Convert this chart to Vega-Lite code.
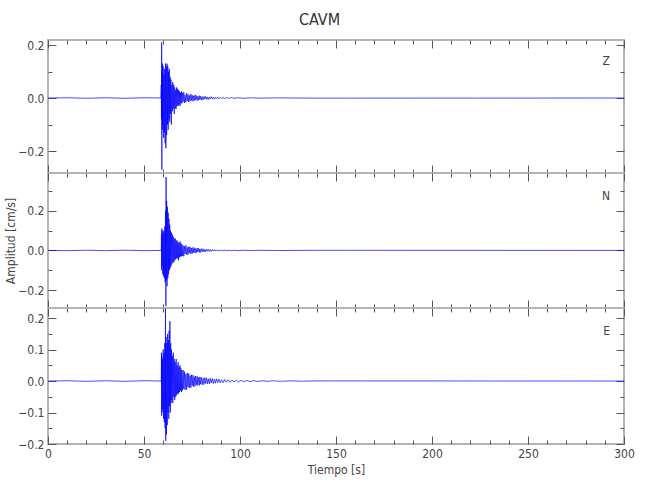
{
  "$schema": "https://vega.github.io/schema/vega-lite/v6.json",
  "padding": {"left": 3, "top": 12, "right": 26, "bottom": 5},
  "title": {"text": "CAVM", "anchor": "middle", "fontSize": 16, "fontWeight": "normal", "color": "#333", "font": "DejaVu Sans Condensed, Lato", "offset": 10},
  "spacing": 0,
  "bounds": "flush",
  "datasets": {
    "z": [
      {"t":0,"v":0},{"t":10,"v":0.001},{"t":20,"v":-0.001},{"t":30,"v":0.001},{"t":40,"v":-0.001},{"t":50,"v":0.001},{"t":58.8,"v":0},
      {"t":59.0,"v":0.05},{"t":59.1,"v":-0.08},{"t":59.2,"v":0.21},{"t":59.3,"v":-0.27},{"t":59.4,"v":0.10},{"t":59.5,"v":-0.12},{"t":59.6,"v":0.13},{"t":59.8,"v":-0.10},
      {"t":60.0,"v":0.12},{"t":60.2,"v":-0.15},{"t":60.4,"v":0.09},{"t":60.6,"v":-0.13},{"t":60.8,"v":0.11},{"t":61.0,"v":-0.17},{"t":61.2,"v":0.13},{"t":61.4,"v":-0.19},
      {"t":61.6,"v":0.12},{"t":61.8,"v":-0.14},{"t":62.0,"v":0.13},{"t":62.2,"v":-0.10},{"t":62.4,"v":0.12},{"t":62.6,"v":-0.12},{"t":62.8,"v":0.10},{"t":63.0,"v":-0.08},
      {"t":63.2,"v":0.11},{"t":63.4,"v":-0.09},{"t":63.6,"v":0.08},{"t":63.8,"v":-0.06},{"t":64.0,"v":0.07},{"t":64.25,"v":-0.10},{"t":64.5,"v":0.05},{"t":64.75,"v":-0.05},
      {"t":65.0,"v":0.06},{"t":65.25,"v":-0.04},{"t":65.5,"v":0.05},{"t":65.75,"v":-0.06},{"t":66.0,"v":0.04},{"t":66.25,"v":-0.04},{"t":66.5,"v":0.03},{"t":66.75,"v":-0.04},
      {"t":67.0,"v":0.04},{"t":67.25,"v":-0.03},{"t":67.5,"v":0.035},{"t":67.75,"v":-0.03},{"t":68.0,"v":0.03},{"t":68.25,"v":-0.025},{"t":68.5,"v":0.025},{"t":68.75,"v":-0.03},
      {"t":69.0,"v":0.02},{"t":69.25,"v":-0.02},{"t":69.5,"v":0.025},{"t":69.75,"v":-0.02},
      {"t":70.0,"v":0.02},{"t":70.4,"v":-0.014},{"t":70.7,"v":0.022},{"t":71.1,"v":-0.019},{"t":71.4,"v":0.012},{"t":71.8,"v":-0.016},{"t":72.2,"v":0.018},{"t":72.5,"v":-0.011},
      {"t":72.9,"v":0.014},{"t":73.3,"v":-0.015},{"t":73.6,"v":0.01},{"t":74.0,"v":-0.012},{"t":74.4,"v":0.015},{"t":74.7,"v":-0.009},{"t":75.1,"v":0.011},{"t":75.5,"v":-0.012},
      {"t":75.8,"v":0.008},{"t":76.2,"v":-0.01},{"t":76.6,"v":0.012},{"t":76.9,"v":-0.007},{"t":77.3,"v":0.009},{"t":77.7,"v":-0.01},{"t":78.0,"v":0.006},{"t":78.4,"v":-0.008},
      {"t":78.8,"v":0.009},{"t":79.1,"v":-0.006},{"t":79.5,"v":0.007},{"t":79.9,"v":-0.008},{"t":80.3,"v":0.005},{"t":80.8,"v":-0.007},{"t":81.2,"v":0.006},{"t":81.7,"v":-0.004},
      {"t":82.1,"v":0.006},{"t":82.6,"v":-0.005},{"t":83.0,"v":0.004},{"t":83.5,"v":-0.006},{"t":84.0,"v":0.004},{"t":84.5,"v":-0.003},{"t":85.0,"v":0.005},{"t":85.6,"v":-0.004},
      {"t":86.1,"v":0.003},{"t":86.7,"v":-0.004},{"t":87.2,"v":0.003},{"t":87.8,"v":-0.002},{"t":88.4,"v":0.003},{"t":89.0,"v":-0.003},{"t":89.7,"v":0.002},{"t":90.4,"v":-0.002},
      {"t":91.2,"v":0.002},{"t":92.0,"v":-0.002},{"t":93.0,"v":0.0015},{"t":94.2,"v":-0.001},{"t":95.5,"v":0.0015},{"t":97,"v":-0.001},{"t":99,"v":0.001},{"t":102,"v":-0.001},
      {"t":106,"v":0.0008},{"t":110,"v":-0.0005},{"t":120,"v":0.0005},{"t":140,"v":-0.0005},{"t":300,"v":0}
    ],
    "n": [
      {"t":0,"v":0},{"t":10,"v":-0.001},{"t":20,"v":0.001},{"t":30,"v":-0.001},{"t":40,"v":0.001},{"t":50,"v":-0.001},{"t":59.0,"v":0},
      {"t":59.1,"v":0.08},{"t":59.2,"v":-0.10},{"t":59.3,"v":0.11},{"t":59.4,"v":-0.08},{"t":59.6,"v":0.10},{"t":59.8,"v":-0.12},{"t":60.0,"v":0.09},{"t":60.2,"v":-0.13},
      {"t":60.4,"v":0.10},{"t":60.6,"v":-0.14},{"t":60.8,"v":0.12},{"t":61.0,"v":-0.16},{"t":61.2,"v":0.20},{"t":61.4,"v":-0.28},{"t":61.5,"v":0.37},{"t":61.6,"v":-0.15},
      {"t":61.8,"v":0.25},{"t":62.0,"v":-0.18},{"t":62.2,"v":0.22},{"t":62.4,"v":-0.14},{"t":62.6,"v":0.19},{"t":62.8,"v":-0.12},{"t":63.0,"v":0.16},{"t":63.2,"v":-0.10},
      {"t":63.4,"v":0.13},{"t":63.6,"v":-0.09},{"t":63.8,"v":0.10},{"t":64.0,"v":-0.08},{"t":64.25,"v":0.09},{"t":64.5,"v":-0.07},{"t":64.75,"v":0.08},{"t":65.0,"v":-0.06},
      {"t":65.25,"v":0.07},{"t":65.5,"v":-0.06},{"t":65.75,"v":0.06},{"t":66.0,"v":-0.05},{"t":66.25,"v":0.06},{"t":66.5,"v":-0.045},{"t":66.75,"v":0.05},{"t":67.0,"v":-0.04},
      {"t":67.25,"v":0.05},{"t":67.5,"v":-0.04},{"t":67.75,"v":0.04},{"t":68.0,"v":-0.05},{"t":68.25,"v":0.04},{"t":68.5,"v":-0.035},{"t":68.75,"v":0.045},{"t":69.0,"v":-0.03},
      {"t":69.25,"v":0.035},{"t":69.5,"v":-0.03},{"t":69.75,"v":0.03},
      {"t":70.0,"v":-0.028},{"t":70.4,"v":0.024},{"t":70.7,"v":-0.03},{"t":71.1,"v":0.021},{"t":71.4,"v":-0.018},{"t":71.8,"v":0.026},{"t":72.2,"v":-0.02},{"t":72.5,"v":0.016},
      {"t":72.9,"v":-0.022},{"t":73.3,"v":0.019},{"t":73.6,"v":-0.014},{"t":74.0,"v":0.018},{"t":74.4,"v":-0.017},{"t":74.7,"v":0.012},{"t":75.1,"v":-0.016},{"t":75.5,"v":0.015},
      {"t":75.8,"v":-0.011},{"t":76.2,"v":0.014},{"t":76.6,"v":-0.013},{"t":76.9,"v":0.009},{"t":77.3,"v":-0.012},{"t":77.7,"v":0.012},{"t":78.0,"v":-0.008},{"t":78.4,"v":0.011},
      {"t":78.8,"v":-0.01},{"t":79.1,"v":0.007},{"t":79.5,"v":-0.01},{"t":79.9,"v":0.009},{"t":80.3,"v":-0.006},{"t":80.8,"v":0.008},{"t":81.2,"v":-0.008},{"t":81.7,"v":0.005},
      {"t":82.1,"v":-0.007},{"t":82.6,"v":0.006},{"t":83.0,"v":-0.004},{"t":83.5,"v":0.006},{"t":84.0,"v":-0.005},{"t":84.5,"v":0.004},{"t":85.0,"v":-0.005},{"t":85.6,"v":0.004},
      {"t":86.1,"v":-0.003},{"t":86.7,"v":0.004},{"t":87.2,"v":-0.003},{"t":87.8,"v":0.003},{"t":88.4,"v":-0.003},{"t":89.0,"v":0.002},{"t":89.7,"v":-0.003},{"t":90.4,"v":0.002},
      {"t":91.2,"v":-0.002},{"t":92.0,"v":0.002},{"t":93.0,"v":-0.0015},{"t":94.2,"v":0.001},{"t":95.5,"v":-0.0015},{"t":97,"v":0.001},{"t":99,"v":-0.001},{"t":102,"v":0.001},
      {"t":106,"v":-0.0008},{"t":110,"v":0.0005},{"t":120,"v":-0.0005},{"t":140,"v":0.0005},{"t":300,"v":0}
    ],
    "e": [
      {"t":0,"v":0},{"t":10,"v":0.001},{"t":20,"v":-0.001},{"t":30,"v":0.001},{"t":40,"v":-0.001},{"t":50,"v":0.001},{"t":59.0,"v":0},
      {"t":59.1,"v":0.09},{"t":59.2,"v":-0.11},{"t":59.3,"v":0.08},{"t":59.4,"v":-0.10},{"t":59.6,"v":0.07},{"t":59.8,"v":-0.09},{"t":60.0,"v":0.10},{"t":60.2,"v":-0.12},
      {"t":60.4,"v":0.09},{"t":60.6,"v":-0.13},{"t":60.8,"v":0.12},{"t":61.0,"v":-0.15},{"t":61.2,"v":0.23},{"t":61.3,"v":-0.19},{"t":61.5,"v":0.14},{"t":61.7,"v":-0.17},
      {"t":61.9,"v":0.12},{"t":62.1,"v":-0.14},{"t":62.3,"v":0.15},{"t":62.5,"v":-0.10},{"t":62.7,"v":0.13},{"t":62.9,"v":-0.12},{"t":63.1,"v":0.16},{"t":63.3,"v":-0.08},
      {"t":63.5,"v":0.19},{"t":63.7,"v":-0.10},{"t":63.9,"v":0.12},{"t":64.1,"v":-0.07},{"t":64.3,"v":0.10},{"t":64.5,"v":-0.06},{"t":64.75,"v":0.08},{"t":65.0,"v":-0.07},
      {"t":65.25,"v":0.09},{"t":65.5,"v":-0.05},{"t":65.75,"v":0.07},{"t":66.0,"v":-0.06},{"t":66.25,"v":0.06},{"t":66.5,"v":-0.05},{"t":66.75,"v":0.07},{"t":67.0,"v":-0.045},
      {"t":67.25,"v":0.05},{"t":67.5,"v":-0.04},{"t":67.75,"v":0.06},{"t":68.0,"v":-0.04},{"t":68.25,"v":0.045},{"t":68.5,"v":-0.035},{"t":68.75,"v":0.05},{"t":69.0,"v":-0.03},
      {"t":69.25,"v":0.04},{"t":69.5,"v":-0.035},{"t":69.75,"v":0.035},
      {"t":70.0,"v":-0.03},{"t":70.4,"v":0.034},{"t":70.7,"v":-0.025},{"t":71.1,"v":0.03},{"t":71.4,"v":-0.028},{"t":71.8,"v":0.022},{"t":72.2,"v":-0.027},{"t":72.5,"v":0.026},
      {"t":72.9,"v":-0.019},{"t":73.3,"v":0.024},{"t":73.6,"v":-0.022},{"t":74.0,"v":0.017},{"t":74.4,"v":-0.021},{"t":74.7,"v":0.02},{"t":75.1,"v":-0.015},{"t":75.5,"v":0.019},
      {"t":75.8,"v":-0.018},{"t":76.2,"v":0.014},{"t":76.6,"v":-0.017},{"t":76.9,"v":0.016},{"t":77.3,"v":-0.012},{"t":77.7,"v":0.015},{"t":78.0,"v":-0.014},{"t":78.4,"v":0.011},
      {"t":78.8,"v":-0.014},{"t":79.1,"v":0.013},{"t":79.5,"v":-0.01},{"t":79.9,"v":0.012},{"t":80.3,"v":-0.012},{"t":80.8,"v":0.009},{"t":81.2,"v":-0.011},{"t":81.7,"v":0.011},
      {"t":82.1,"v":-0.008},{"t":82.6,"v":0.01},{"t":83.0,"v":-0.009},{"t":83.5,"v":0.007},{"t":84.0,"v":-0.009},{"t":84.5,"v":0.009},{"t":85.0,"v":-0.006},{"t":85.6,"v":0.008},
      {"t":86.1,"v":-0.008},{"t":86.7,"v":0.006},{"t":87.2,"v":-0.007},{"t":87.8,"v":0.007},{"t":88.4,"v":-0.005},{"t":89.0,"v":0.006},{"t":89.7,"v":-0.006},{"t":90.4,"v":0.004},
      {"t":91.2,"v":-0.005},{"t":92.0,"v":0.005},{"t":92.9,"v":-0.004},{"t":93.8,"v":0.004},{"t":94.8,"v":-0.004},{"t":95.8,"v":0.003},{"t":96.9,"v":-0.003},{"t":98,"v":0.003},
      {"t":99.2,"v":-0.003},{"t":100.5,"v":0.002},{"t":102,"v":-0.0025},{"t":103.6,"v":0.002},{"t":105.3,"v":-0.002},{"t":107,"v":0.0015},{"t":109,"v":-0.0015},{"t":111.5,"v":0.001},
      {"t":114,"v":-0.001},{"t":117,"v":0.001},{"t":121,"v":-0.0008},{"t":126,"v":0.0006},{"t":132,"v":-0.0005},{"t":140,"v":0.0004},{"t":300,"v":0}
    ]
  },
  "vconcat": [
    {
      "data": {"name": "z"},
      "width": 576, "height": 133,
      "title": {"text": "Z", "anchor": "end", "frame": "group", "orient": "top", "offset": -29, "dx": -14, "fontSize": 12, "fontWeight": "normal", "color": "#444"},
      "layer": [
        {"mark": {"type": "line", "color": "#0000ff", "strokeWidth": 0.7},
         "encoding": {
           "x": {"field": "t", "type": "quantitative", "scale": {"domain": [0, 300], "nice": false},
                 "axis": {"orient": "bottom", "values": [0,10,20,30,40,50,60,70,80,90,100,110,120,130,140,150,160,170,180,190,200,210,220,230,240,250,260,270,280,290,300], "tickSize": {"condition": {"test": "datum.value % 50 === 0", "value": -8}, "value": -4}, "labels": false, "title": null}},
           "y": {"field": "v", "type": "quantitative", "scale": {"domain": [-0.283, 0.219], "nice": false, "zero": false},
                 "axis": {"orient": "left", "values": [-0.2,-0.1,0,0.1,0.2], "format": ".1f", "tickSize": {"condition": {"test": "abs(round(datum.value*10)) % 2 === 0", "value": -8}, "value": -4}, "labelExpr": "abs(round(datum.value*10)) % 2 === 0 ? datum.label : ''", "labelPadding": 12, "title": null}}
         }},
        {"mark": {"type": "line", "opacity": 0},
         "encoding": {
           "x": {"field": "t", "type": "quantitative", "axis": {"orient": "top", "values": [0,10,20,30,40,50,60,70,80,90,100,110,120,130,140,150,160,170,180,190,200,210,220,230,240,250,260,270,280,290,300], "tickSize": {"condition": {"test": "datum.value % 50 === 0", "value": -8}, "value": -4}, "labels": false, "title": null}},
           "y": {"field": "v", "type": "quantitative", "axis": {"orient": "right", "values": [-0.2,-0.1,0,0.1,0.2], "tickSize": {"condition": {"test": "abs(round(datum.value*10)) % 2 === 0", "value": -8}, "value": -4}, "labels": false, "title": null}}
         }}
      ],
      "resolve": {"axis": {"x": "independent", "y": "independent"}}
    },
    {
      "data": {"name": "n"},
      "width": 576, "height": 135,
      "title": {"text": "N", "anchor": "end", "frame": "group", "orient": "top", "offset": -30, "dx": -14, "fontSize": 12, "fontWeight": "normal", "color": "#444"},
      "layer": [
        {"mark": {"type": "line", "color": "#0000ff", "strokeWidth": 0.7},
         "encoding": {
           "x": {"field": "t", "type": "quantitative", "scale": {"domain": [0, 300], "nice": false},
                 "axis": {"orient": "bottom", "values": [0,10,20,30,40,50,60,70,80,90,100,110,120,130,140,150,160,170,180,190,200,210,220,230,240,250,260,270,280,290,300], "tickSize": {"condition": {"test": "datum.value % 50 === 0", "value": -8}, "value": -4}, "labels": false, "title": null}},
           "y": {"field": "v", "type": "quantitative", "scale": {"domain": [-0.29, 0.39], "nice": false, "zero": false},
                 "axis": {"orient": "left", "values": [-0.2,-0.1,0,0.1,0.2,0.3], "format": ".1f", "tickSize": {"condition": {"test": "abs(round(datum.value*10)) % 2 === 0", "value": -8}, "value": -4}, "labelExpr": "abs(round(datum.value*10)) % 2 === 0 ? datum.label : ''", "labelPadding": 12, "title": "Amplitud  [cm/s]", "titlePadding": 0}}
         }},
        {"mark": {"type": "line", "opacity": 0},
         "encoding": {
           "x": {"field": "t", "type": "quantitative", "axis": {"orient": "top", "values": [0,10,20,30,40,50,60,70,80,90,100,110,120,130,140,150,160,170,180,190,200,210,220,230,240,250,260,270,280,290,300], "tickSize": {"condition": {"test": "datum.value % 50 === 0", "value": -8}, "value": -4}, "labels": false, "title": null}},
           "y": {"field": "v", "type": "quantitative", "axis": {"orient": "right", "values": [-0.2,-0.1,0,0.1,0.2,0.3], "tickSize": {"condition": {"test": "abs(round(datum.value*10)) % 2 === 0", "value": -8}, "value": -4}, "labels": false, "title": null}}
         }}
      ],
      "resolve": {"axis": {"x": "independent", "y": "independent"}}
    },
    {
      "data": {"name": "e"},
      "width": 576, "height": 136,
      "title": {"text": "E", "anchor": "end", "frame": "group", "orient": "top", "offset": -31, "dx": -14, "fontSize": 12, "fontWeight": "normal", "color": "#444"},
      "layer": [
        {"mark": {"type": "line", "color": "#0000ff", "strokeWidth": 0.7},
         "encoding": {
           "x": {"field": "t", "type": "quantitative", "scale": {"domain": [0, 300], "nice": false},
                 "axis": {"orient": "bottom", "values": [0,10,20,30,40,50,60,70,80,90,100,110,120,130,140,150,160,170,180,190,200,210,220,230,240,250,260,270,280,290,300], "tickSize": {"condition": {"test": "datum.value % 50 === 0", "value": -8}, "value": -4}, "labelExpr": "datum.value % 50 === 0 ? datum.label : ''", "labelPadding": 12, "title": "Tiempo  [s]", "titlePadding": 1}},
           "y": {"field": "v", "type": "quantitative", "scale": {"domain": [-0.2, 0.232], "nice": false, "zero": false},
                 "axis": {"orient": "left", "values": [-0.2,-0.15,-0.1,-0.05,0,0.05,0.1,0.15,0.2], "format": ".1f", "tickSize": {"condition": {"test": "abs(round(datum.value*20)) % 2 === 0", "value": -8}, "value": -4}, "labelExpr": "abs(round(datum.value*20)) % 2 === 0 ? datum.label : ''", "labelPadding": 12, "title": null}}
         }},
        {"mark": {"type": "line", "opacity": 0},
         "encoding": {
           "x": {"field": "t", "type": "quantitative", "axis": {"orient": "top", "values": [0,10,20,30,40,50,60,70,80,90,100,110,120,130,140,150,160,170,180,190,200,210,220,230,240,250,260,270,280,290,300], "tickSize": {"condition": {"test": "datum.value % 50 === 0", "value": -8}, "value": -4}, "labels": false, "title": null}},
           "y": {"field": "v", "type": "quantitative", "axis": {"orient": "right", "values": [-0.2,-0.15,-0.1,-0.05,0,0.05,0.1,0.15,0.2], "tickSize": {"condition": {"test": "abs(round(datum.value*20)) % 2 === 0", "value": -8}, "value": -4}, "labels": false, "title": null}}
         }}
      ],
      "resolve": {"axis": {"x": "independent", "y": "independent"}}
    }
  ],
  "config": {
    "font": "DejaVu Sans Condensed, Lato",
    "view": {"stroke": "#b4b4b4", "strokeWidth": 2},
    "axis": {"domain": false, "grid": false, "tickColor": "#555", "tickWidth": 1, "labelFont": "DejaVu Sans Condensed, Lato", "labelFontSize": 12, "labelColor": "#444", "labelFlush": false, "labelOverlap": false, "titleFont": "DejaVu Sans Condensed, Lato", "titleFontSize": 12, "titleFontWeight": "normal", "titleColor": "#444"}
  }
}
